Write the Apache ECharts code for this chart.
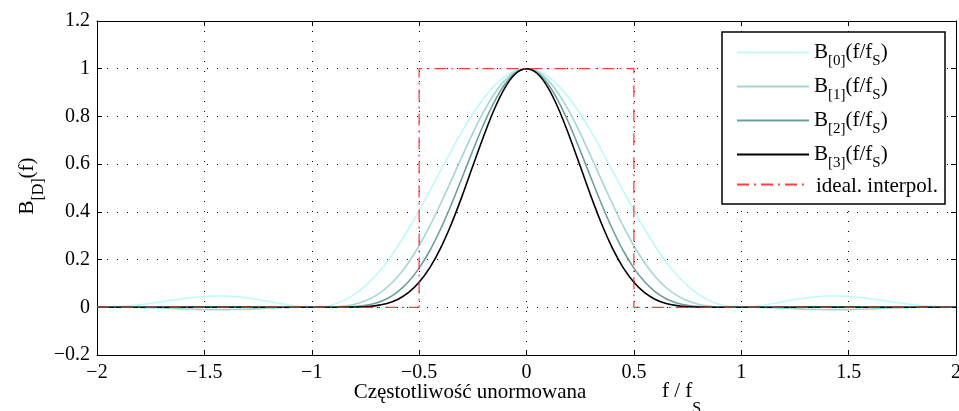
<!DOCTYPE html>
<html><head><meta charset="utf-8">
<script src="https://cdn.jsdelivr.net/npm/echarts@6/dist/echarts.min.js"></script>
<style>html,body{margin:0;padding:0;background:#fff}#c{width:959px;height:411px}</style>
</head><body><div id="c"></div>
<script>
// sample positions (f / fS)
const xs = [-2,-1.95,-1.9,-1.85,-1.8,-1.75,-1.7,-1.65,-1.6,-1.55,-1.5,-1.45,-1.4,-1.35,-1.3,-1.25,-1.2,-1.15,-1.1,-1.05,-1,-0.95,-0.9,-0.85,-0.8,-0.75,-0.7,-0.65,-0.6,-0.55,-0.5,-0.45,-0.4,-0.35,-0.3,-0.25,-0.2,-0.15,-0.1,-0.05,0,0.05,0.1,0.15,0.2,0.25,0.3,0.35,0.4,0.45,0.5,0.55,0.6,0.65,0.7,0.75,0.8,0.85,0.9,0.95,1,1.05,1.1,1.15,1.2,1.25,1.3,1.35,1.4,1.45,1.5,1.55,1.6,1.65,1.7,1.75,1.8,1.85,1.9,1.95,2];
const b0 = [0,.001,.003,.006,.011,.017,.023,.030,.036,.041,.045,.047,.047,.044,.039,.032,.024,.016,.008,.002,0,.003,.012,.029,.055,.090,.135,.190,.255,.327,.405,.488,.573,.657,.737,.811,.875,.928,.968,.992,1,.992,.968,.928,.875,.811,.737,.657,.573,.488,.405,.327,.255,.190,.135,.090,.055,.029,.012,.003,0,.002,.008,.016,.024,.032,.039,.044,.047,.047,.045,.041,.036,.030,.023,.017,.011,.006,.003,.001,0];
const b1 = [0,0,0,0,-.001,-.002,-.003,-.005,-.007,-.008,-.010,-.010,-.010,-.009,-.008,-.006,-.004,-.002,-.001,0,0,0,.001,.005,.013,.027,.050,.083,.128,.187,.258,.341,.434,.532,.632,.730,.819,.894,.952,.988,1,.988,.952,.894,.819,.730,.632,.532,.434,.341,.258,.187,.128,.083,.050,.027,.013,.005,.001,0,0,0,-.001,-.002,-.004,-.006,-.008,-.009,-.010,-.010,-.010,-.008,-.007,-.005,-.003,-.002,-.001,0,0,0,0];
const b2 = [0,0,0,0,0,0,.001,.001,.001,.002,.002,.002,.002,.002,.002,.001,.001,0,0,0,0,0,0,.001,.003,.008,.018,.036,.065,.107,.164,.238,.328,.431,.543,.657,.766,.861,.936,.984,1,.984,.936,.861,.766,.657,.543,.431,.328,.238,.164,.107,.065,.036,.018,.008,.003,.001,0,0,0,0,0,0,.001,.001,.002,.002,.002,.002,.002,.002,.001,.001,.001,0,0,0,0,0,0];
const b3 = [0,0,0,0,0,0,0,0,0,0,0,0,0,0,0,0,0,0,0,0,0,0,0,0,.001,.002,.007,.016,.033,.061,.105,.166,.248,.349,.466,.592,.716,.830,.921,.980,1,.980,.921,.830,.716,.592,.466,.349,.248,.166,.105,.061,.033,.016,.007,.002,.001,0,0,0,0,0,0,0,0,0,0,0,0,0,0,0,0,0,0,0,0,0,0,0,0];
const idealX = [-2,-0.5,-0.5,0.5,0.5,2];
const idealY = [0,0,1,1,0,0];
const seriesNames = ['B0','B1','B2','B3','ideal'];
const legendSubs = ['[0]','[1]','[2]','[3]'];
const xTicks = {min:-2, max:2, step:0.5};
const yTicks = {min:-0.2, max:1.2, step:0.2};

const pairs = (x, y) => x.map((v, i) => [v, y[i]]);
const SERIF = "'Liberation Serif','DejaVu Serif',serif";
const minus = v => String(+(+v).toFixed(2)).replace('-', '\u2212');

const chart = echarts.init(document.getElementById('c'), null, {renderer:'canvas'});
const axisCommon = {
  type:'value',
  axisLine:{show:true, onZero:false, lineStyle:{color:'#000', width:1}},
  axisTick:{show:true, inside:true, length:5, lineStyle:{color:'#000', width:1}},
};
const curveColors = ['#bdfafa','#a3d6d6','#6e9e9e','#000000'];
const curves = [b0,b1,b2,b3].map((d, i) => ({
  name: seriesNames[i], type:'line', data: pairs(xs, d), symbol:'none', showSymbol:false,
  smooth:0.3, lineStyle:{color:curveColors[i], width:1.6}, itemStyle:{color:curveColors[i]}, z:2+i*0.01
}));
curves.push({
  name: seriesNames[4], type:'line', data: pairs(idealX, idealY), symbol:'none', showSymbol:false,
  lineStyle:{color:'#ff2020', width:1.3, type:[12,5,2,5], opacity:0.85}, itemStyle:{color:'#ff2020'}, z:3
});

chart.setOption({
  animation:false,
  backgroundColor:'#fff',
  grid:{left:97, right:3, top:21, bottom:56, containLabel:false, outerBoundsMode:'none'},
  xAxis:[
    Object.assign({}, axisCommon, {min:xTicks.min, max:xTicks.max, interval:xTicks.step, position:'bottom',
      axisLabel:{fontFamily:SERIF, fontSize:20, color:'#000', margin:8, formatter:minus},
      splitLine:{show:true, lineStyle:{color:'#000', width:1, type:[1,9]}}}),
    Object.assign({}, axisCommon, {min:xTicks.min, max:xTicks.max, interval:xTicks.step, position:'top',
      axisLabel:{show:false}, splitLine:{show:false}})
  ],
  yAxis:[
    Object.assign({}, axisCommon, {min:yTicks.min, max:yTicks.max, interval:yTicks.step, position:'left',
      axisLabel:{fontFamily:SERIF, fontSize:20, color:'#000', margin:7, formatter:minus},
      splitLine:{show:true, lineStyle:{color:'#000', width:1, type:[1,9]}}}),
    Object.assign({}, axisCommon, {min:yTicks.min, max:yTicks.max, interval:yTicks.step, position:'right',
      axisLabel:{show:false}, splitLine:{show:false}})
  ],
  legend:{
    orient:'vertical', left:736, top:41.5, padding:0, itemGap:0, itemWidth:72, itemHeight:14,
    data: seriesNames,
    itemStyle:{opacity:0, borderWidth:0},
    formatter: n => {
      const i = seriesNames.indexOf(n);
      if (i < 3) return '{b|B}{s|' + legendSubs[i] + '}{b|(f/f}{s|S}{b|)}';
      if (i === 3) return '{b|B}{t|' + legendSubs[i] + '}{b|(f/f}{t|S}{b|)}';
      return '{p|ideal. interpol.}';
    },
    textStyle:{fontFamily:SERIF, fontSize:21, color:'#000',
      rich:{
        b:{fontFamily:SERIF, fontSize:21, lineHeight:22, verticalAlign:'top', color:'#000'},
        s:{fontFamily:SERIF, fontSize:15, lineHeight:16, padding:[12,0,7,0], verticalAlign:'top', color:'#000'},
        t:{fontFamily:SERIF, fontSize:15, lineHeight:16, padding:[12,0,3,0], verticalAlign:'top', color:'#000'},
        p:{fontFamily:SERIF, fontSize:21, lineHeight:22, padding:[2,0,2,2], verticalAlign:'top', color:'#000'}
      }},
    z:5
  },
  graphic:[
    {type:'rect', shape:{x:722, y:32, width:223, height:172}, style:{fill:'#fff', stroke:'#000', lineWidth:1.5}, z:4, silent:true},
    {type:'text', x:28, y:186, rotation:Math.PI/2, z:5,
      style:{text:'{b|B}{s|[D]}{b|(f)}', align:'center', verticalAlign:'middle', fill:'#000', font:'21px '+SERIF,
        rich:{ b:{fontFamily:SERIF, fontSize:21, lineHeight:22, verticalAlign:'top', fill:'#000'},
               s:{fontFamily:SERIF, fontSize:16, lineHeight:17, padding:[14,0,0,0], verticalAlign:'top', fill:'#000'} }}},
    {type:'text', x:470, y:392, z:5,
      style:{text:'Częstotliwość unormowana', align:'center', verticalAlign:'middle', fill:'#000', font:'21px '+SERIF}},
    {type:'text', x:662, y:381, z:5,
      style:{text:'{b|f / f}{s|S}', align:'left', verticalAlign:'top', fill:'#000', font:'21px '+SERIF,
        rich:{ b:{fontFamily:SERIF, fontSize:21, lineHeight:22, verticalAlign:'top', fill:'#000'},
               s:{fontFamily:SERIF, fontSize:16, lineHeight:17, padding:[20,0,0,0], verticalAlign:'top', fill:'#000'} }}}
  ],
  series: curves
});
</script>
</body></html>
